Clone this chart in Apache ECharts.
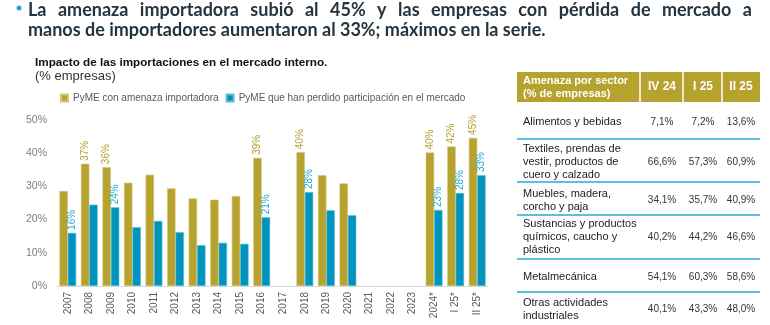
<!DOCTYPE html>
<html><head><meta charset="utf-8">
<script src="https://cdn.jsdelivr.net/npm/echarts@6/dist/echarts.min.js"></script>
<style>html,body{margin:0;padding:0;background:#fff}#c{width:770px;height:325px}</style>
</head><body><div id="c"></div>
<script>
// ---------- data ----------
const categories = ['2007','2008','2009','2010','2011','2012','2013','2014','2015','2016','2017','2018','2019','2020','2021','2022','2023','2024*','I 25*','II 25*'];
const threatValues = [28.6,36.8,35.8,31.1,33.5,29.4,26.4,26.0,27.1,38.6,null,40.3,33.4,30.9,null,null,null,40.2,42.0,44.6];
const lostValues   = [16.0,24.5,23.7,17.7,19.6,16.2,12.3,13.0,12.7,20.7,null,28.3,22.8,21.3,null,null,null,22.9,28.0,33.4];
const threatLabeled = ['2008','2009','2016','2018','2024*','I 25*','II 25*'];
const lostLabeled   = ['2007','2009','2016','2018','2024*','I 25*','II 25*'];
const seriesNames = ['PyME con amenaza importadora','PyME que han perdido participación en el mercado'];
const yMin = 0, yMax = 50, yStep = 10;

const headline1 = 'La amenaza importadora subió al 45% y las empresas con pérdida de mercado a';
const headline2 = 'manos de importadores aumentaron al 33%; máximos en la serie.';
const chartTitle = 'Impacto de las importaciones en el mercado interno.';
const chartSub = '(% empresas)';

const tableHeader = ['Amenaza por sector\n(% de empresas)','IV 24','I 25','II 25'];
const sectors = ['Alimentos y bebidas','Textiles, prendas de\nvestir, productos de\ncuero y calzado','Muebles, madera,\ncorcho y paja','Sustancias y productos\nquímicos, caucho y\nplástico','Metalmecánica','Otras actividades\nindustriales'];
const colIV24 = ['7,1%','66,6%','34,1%','40,2%','54,1%','40,1%'];
const colI25  = ['7,2%','57,3%','35,7%','44,2%','60,3%','43,3%'];
const colII25 = ['13,6%','60,9%','40,9%','46,6%','58,6%','48,0%'];

// ---------- styles ----------
const GOLD = '#b5a22f', BLUE = '#0093bd', GOLD_LBL = '#b3a032', BLUE_LBL = '#27a9d3';
const HEAD_COLOR = '#25353f';

// justified headline line 1
const HFONT = 'bold 18px Lato';
const cv = document.createElement('canvas').getContext('2d');
cv.font = HFONT;
const words = headline1.split(' ');
const x0 = 28, x1 = 752;
const widths = words.map(w => cv.measureText(w).width);
const totalW = widths.reduce((a,b)=>a+b,0);
const gap = (x1 - x0 - totalW) / (words.length - 1);
const graphics = [];
let cx = x0;
words.forEach((w,i) => {
  graphics.push({type:'text', left:cx, top:1, style:{text:w, font:HFONT, fill:HEAD_COLOR}});
  cx += widths[i] + gap;
});
graphics.push({type:'text', left:x0, top:21, style:{text:headline2, font:HFONT, fill:HEAD_COLOR}});
graphics.push({type:'circle', shape:{cx:19, cy:8, r:2.5}, style:{fill:'#2aa8c8'}});
graphics.push({type:'text', left:35, top:57, style:{text:chartTitle, font:'bold 11.7px "Liberation Sans"', fill:'#111'}});
graphics.push({type:'text', left:35, top:70, style:{text:chartSub, font:'13px "Liberation Sans"', fill:'#333'}});

// table
const tX0 = 517, tX1 = 760, tY0 = 72, tY1 = 102;
const colDiv = [640, 683, 722];
const colCenter = [662, 703, 741];
graphics.push({type:'rect', shape:{x:tX0, y:tY0, width:tX1-tX0, height:tY1-tY0}, style:{fill:GOLD}});
colDiv.forEach(x => graphics.push({type:'line', shape:{x1:x, y1:tY0, x2:x, y2:tY1}, style:{stroke:'#fff', lineWidth:1.5}}));
graphics.push({type:'text', x:523, y:87, style:{text:tableHeader[0], font:'bold 11px "Liberation Sans"', fill:'#fff', verticalAlign:'middle', lineHeight:13}});
for (let i=1;i<4;i++) graphics.push({type:'text', x:colCenter[i-1], y:87, style:{text:tableHeader[i], font:'bold 12px "Liberation Sans"', fill:'#fff', align:'center', verticalAlign:'middle'}});
const rowCenters = [122, 162, 200, 237, 277, 309];
const seps = [139, 182, 215, 259, 292];
seps.forEach(y => graphics.push({type:'line', shape:{x1:tX0, y1:y, x2:tX1, y2:y}, style:{stroke:'#5cbfdf', lineWidth:2}}));
const cols = [colIV24, colI25, colII25];
sectors.forEach((s, r) => {
  graphics.push({type:'text', x:523, y:rowCenters[r], style:{text:s, font:'11px "Liberation Sans"', fill:'#222', verticalAlign:'middle', lineHeight:13}});
  cols.forEach((col, c) => {
    graphics.push({type:'text', x:colCenter[c], y:rowCenters[r], style:{text:col[r], font:'10px "Liberation Sans"', fill:'#333', align:'center', verticalAlign:'middle'}});
  });
});

function mk(vals, labeled, lblColor) {
  return vals.map((v,i) => ({value:v, label:{show: v!=null && labeled.includes(categories[i]), color:lblColor}}));
}
const lblBase = {position:'top', rotate:90, align:'left', verticalAlign:'middle', distance:3, fontSize:10, fontFamily:'"Liberation Sans"', formatter: p => Math.round(p.value)+'%'};

const chart = echarts.init(document.getElementById('c'), null, {renderer:'canvas'});
chart.setOption({
  animation:false,
  color:[GOLD, BLUE],
  legend:{left:55, top:88, itemWidth:7, itemHeight:7, icon:'rect', itemGap:7, textStyle:{fontSize:10, color:'#595959', fontFamily:'"Liberation Sans"'}, data:seriesNames},
  grid:{left:57, right:282, top:120, bottom:39},
  xAxis:{type:'category', data:categories, axisTick:{show:false}, axisLine:{lineStyle:{color:'#d9d9d9'}},
    axisLabel:{rotate:90, fontSize:10, color:'#595959', margin:6, interval:0, fontFamily:'"Liberation Sans"'}},
  yAxis:{type:'value', min:yMin, max:yMax, interval:yStep, splitLine:{show:false}, axisLine:{show:false}, axisTick:{show:false},
    axisLabel:{formatter:'{value}%', fontSize:10.5, color:'#7f7f7f', margin:10, fontFamily:'"Liberation Sans"'}},
  series:[
    {name:seriesNames[0], type:'bar', barWidth:8.4, barGap:'0%', data:mk(threatValues, threatLabeled, GOLD_LBL), label:lblBase,
      itemStyle:{color:GOLD, borderColor:'#d3c674', borderWidth:0.6}},
    {name:seriesNames[1], type:'bar', barWidth:8.4, barGap:'0%', data:mk(lostValues, lostLabeled, BLUE_LBL), label:lblBase,
      itemStyle:{color:BLUE, borderColor:'#5dbcd9', borderWidth:0.6}}
  ],
  graphic:graphics
});
</script></body></html>
